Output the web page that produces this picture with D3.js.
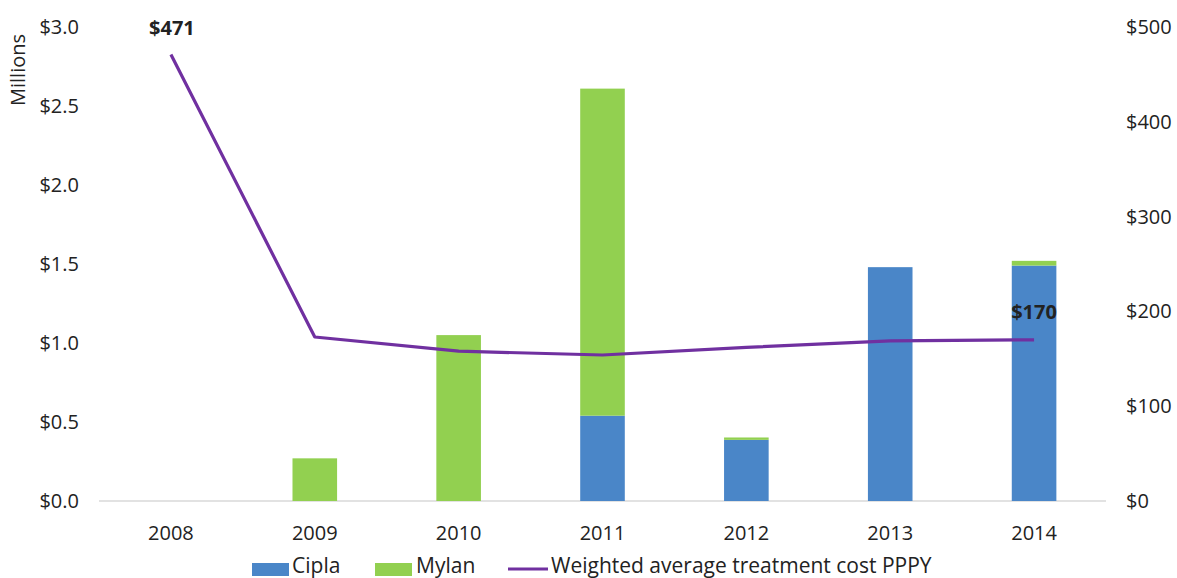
<!DOCTYPE html>
<html><head><meta charset="utf-8">
<script src="https://cdn.jsdelivr.net/npm/d3@7"></script>
<style>body{margin:0;background:#fff}svg{display:block}text{font-family:"Open Sans",sans-serif;fill:#222}</style>
</head><body><svg id="c" width="1177" height="578"></svg>
<script>
const years = ["2008","2009","2010","2011","2012","2013","2014"];
const cipla = [0, 0, 0, 0.54, 0.387, 1.48, 1.49];
const mylan = [0, 0.27, 1.05, 2.07, 0.015, 0, 0.03];
const cost = [471, 173, 158, 154, 162, 169, 170];
const leftTicks = [0, 0.5, 1.0, 1.5, 2.0, 2.5, 3.0];
const rightTicks = [0, 100, 200, 300, 400, 500];
const seriesNames = ["Cipla", "Mylan", "Weighted average treatment cost PPPY"];

const colors = {Cipla: "#4A86C8", Mylan: "#92D050", line: "#7030A0"};
const svg = d3.select("#c");
const L = 99, R = 1106, T = 27, B = 501;
const fs = "20px";

const x = d3.scaleBand().domain(years).range([L, R]).paddingInner(0.69).paddingOuter(0.345);
const yL = d3.scaleLinear().domain([0, 3]).range([B, T]);
const yR = d3.scaleLinear().domain([0, 500]).range([B, T]);

// baseline
svg.append("line").attr("x1", L).attr("x2", R).attr("y1", yL(0)).attr("y2", yL(0))
  .attr("stroke", "#d9d9d9").attr("stroke-width", 1.5);

// stacked bars
const rows = years.map((y, i) => ({year: y, Cipla: cipla[i], Mylan: mylan[i]}));
const stack = d3.stack().keys(["Cipla", "Mylan"])(rows);
svg.append("g").selectAll("g").data(stack).join("g").attr("fill", d => colors[d.key])
  .selectAll("rect").data(d => d).join("rect")
  .attr("x", d => x(d.data.year)).attr("width", x.bandwidth())
  .attr("y", d => yL(d[1])).attr("height", d => yL(d[0]) - yL(d[1]));

// left axis
const la = svg.append("g").attr("transform", `translate(${L - 20},0)`)
  .call(d3.axisLeft(yL).tickValues(leftTicks).tickFormat(d => "$" + d.toFixed(1)).tickSize(0).tickPadding(0));
la.select(".domain").remove();
la.selectAll("text").style("font-size", fs).attr("fill", "#222");

// right axis
const ra = svg.append("g").attr("transform", `translate(${R + 20},0)`)
  .call(d3.axisRight(yR).tickValues(rightTicks).tickFormat(d => "$" + d).tickSize(0).tickPadding(0));
ra.select(".domain").remove();
ra.selectAll("text").style("font-size", fs).attr("fill", "#222");

// x axis
const xa = svg.append("g").attr("transform", `translate(0,${B + 25})`)
  .call(d3.axisBottom(x).tickSize(0).tickPadding(0));
xa.select(".domain").remove();
xa.selectAll("text").style("font-size", fs).attr("fill", "#222");

// Millions
svg.append("text").attr("transform", "translate(25,70) rotate(-90)").attr("text-anchor", "middle")
  .style("font-size", "20px").text("Millions");

// line
const cx = d => x(d) + x.bandwidth() / 2;
svg.append("path").datum(cost)
  .attr("d", d3.line().x((d, i) => cx(years[i])).y(d => yR(d)))
  .attr("fill", "none").attr("stroke", colors.line).attr("stroke-width", 3.2).attr("stroke-linejoin", "round");

// data labels
svg.append("text").attr("x", cx(years[0]) + 1).attr("y", yR(cost[0]) - 19).attr("text-anchor", "middle")
  .style("font-size", fs).style("font-weight", "bold").text("$" + cost[0]);
svg.append("text").attr("x", cx(years[6]) + 0).attr("y", yR(cost[6]) - 21).attr("text-anchor", "middle")
  .style("font-size", fs).style("font-weight", "bold").text("$" + cost[6]);

// legend
const lg = svg.append("g");
const ly = 569, lfs = "21px", tb = 573;
lg.append("rect").attr("x", 252).attr("y", ly - 6).attr("width", 37).attr("height", 13).attr("fill", colors.Cipla);
lg.append("text").attr("x", 292).attr("y", tb).style("font-size", lfs).text(seriesNames[0]);
lg.append("rect").attr("x", 375).attr("y", ly - 6).attr("width", 37).attr("height", 13).attr("fill", colors.Mylan);
lg.append("text").attr("x", 416).attr("y", tb).style("font-size", lfs).text(seriesNames[1]);
lg.append("line").attr("x1", 508).attr("x2", 548).attr("y1", ly).attr("y2", ly).attr("stroke", colors.line).attr("stroke-width", 3.2);
lg.append("text").attr("x", 551).attr("y", tb).style("font-size", lfs).text(seriesNames[2]);
</script></body></html>
